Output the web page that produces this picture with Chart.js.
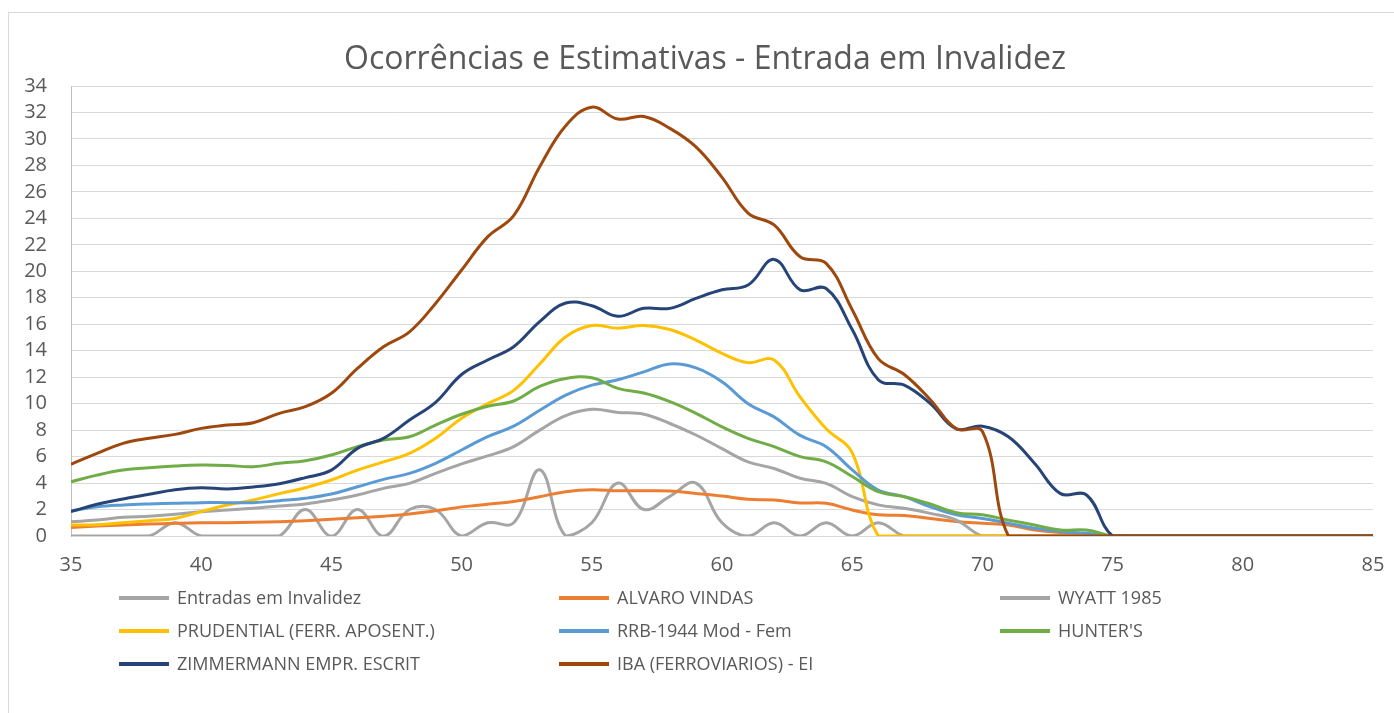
<!DOCTYPE html>
<html>
<head>
<meta charset="utf-8">
<script src="https://cdn.jsdelivr.net/npm/chart.js@4/dist/chart.umd.min.js"></script>
<style>
    html, body { margin: 0; padding: 0; background: #fff; }
    #wrap { position: relative; width: 1394px; height: 713px; overflow: hidden; font-family: "Open Sans", sans-serif; }
    #frame { position: absolute; left: 8px; top: 12px; width: 1500px; height: 800px; border: 1px solid #d9d9d9; box-sizing: border-box; }
    #title { position: absolute; left: 0; top: 37px; width: 1410px; text-align: center; font-size: 32px; color: #595959; line-height: 40px; }
    #chart { position: absolute; left: 0; top: 0; }
    .leg { position: absolute; font-size: 18px; color: #595959; line-height: 20px; white-space: nowrap; }
    .leg span.sw { position: absolute; left: 0; top: 9px; width: 50px; height: 4px; }
    .leg span.tx { position: absolute; left: 58px; top: 0; }
</style>
</head>
<body>
<div id="wrap">
    <div id="frame"></div>
    <canvas id="chart" width="1394" height="713"></canvas>
    <div id="title">Ocorrências e Estimativas - Entrada em Invalidez</div>
    <div id="legend"></div>
</div>
<script>
// Ages 35..85
const ages = [35,36,37,38,39,40,41,42,43,44,45,46,47,48,49,50,51,52,53,54,55,56,57,58,59,60,
    61,62,63,64,65,66,67,68,69,70,71,72,73,74,75,76,77,78,79,80,81,82,83,84,85];

const yTicks = [0,2,4,6,8,10,12,14,16,18,20,22,24,26,28,30,32,34];
const xTicks = [35,40,45,50,55,60,65,70,75,80,85];

const seriesNames = [
    'Entradas em Invalidez', 'ALVARO VINDAS', 'WYATT 1985',
    'PRUDENTIAL (FERR. APOSENT.)', 'RRB-1944 Mod - Fem', "HUNTER'S",
    'ZIMMERMANN EMPR. ESCRIT', 'IBA (FERROVIARIOS) - EI'
];
const seriesColors = ['#a5a5a5', '#ed7d31', '#a5a5a5', '#ffc000', '#5b9bd5', '#70ad47', '#264478', '#9e480e'];

const entradas = [0,0,0,0,1,0,0,0,0,2,0,2,0,2,2,0,1,1,5,0,1,4,2,3,4,1,
    0,1,0,1,0,1,0,0,0,0,0,0,0,0,0,0,0,0,0,0,0,0,0,0,0];
const alvaro = [0.65,0.75,0.83,0.9,0.96,1.0,1.0,1.03,1.08,1.16,1.26,1.38,1.5,1.66,1.9,2.2,2.4,2.6,2.97,3.35,3.5,3.42,3.42,3.4,3.22,3.02,
    2.77,2.72,2.5,2.47,1.96,1.6,1.55,1.33,1.1,0.96,0.83,0.45,0.25,0.1,0,0,0,0,0,0,0,0,0,0,0];
const wyatt = [1.08,1.2,1.41,1.5,1.64,1.84,1.96,2.09,2.27,2.42,2.72,3.1,3.6,3.98,4.73,5.45,6.05,6.75,8.0,9.1,9.57,9.34,9.2,8.5,7.63,6.6,
    5.6,5.1,4.36,3.98,2.97,2.35,2.09,1.71,1.2,0,0,0,0,0,0,0,0,0,0,0,0,0,0,0,0];
const prudential = [0.83,0.85,1.0,1.16,1.33,1.84,2.34,2.72,3.2,3.65,4.23,4.98,5.6,6.24,7.38,8.9,10.0,11.0,13.0,15.05,15.9,15.7,15.9,15.6,14.8,13.8,
    13.1,13.3,10.5,8.1,6.3,0,0,0,0,0,0,0,0,0,0,0,0,0,0,0,0,0,0,0,0];
const rrb = [1.9,2.2,2.34,2.42,2.47,2.52,2.52,2.52,2.67,2.85,3.17,3.72,4.28,4.73,5.49,6.5,7.5,8.3,9.5,10.65,11.4,11.8,12.4,13.0,12.7,11.65,
    10.0,9.0,7.6,6.75,5.0,3.47,2.97,2.2,1.6,1.33,0.96,0.58,0.33,0.2,0,0,0,0,0,0,0,0,0,0,0];
const hunters = [4.1,4.6,4.98,5.16,5.29,5.36,5.33,5.24,5.49,5.69,6.12,6.75,7.25,7.5,8.38,9.2,9.8,10.2,11.3,11.9,11.95,11.15,10.8,10.15,9.27,8.25,
    7.38,6.75,6.0,5.6,4.5,3.35,2.97,2.42,1.76,1.6,1.2,0.83,0.45,0.45,0,0,0,0,0,0,0,0,0,0,0];
const zimmermann = [1.84,2.4,2.8,3.15,3.5,3.65,3.55,3.7,3.95,4.41,4.98,6.62,7.38,8.76,10.1,12.2,13.3,14.3,16.2,17.6,17.4,16.6,17.2,17.2,17.95,18.6,
    18.96,20.9,18.6,18.7,15.6,11.8,11.4,10.0,8.1,8.3,7.5,5.5,3.2,3.1,0,0,0,0,0,0,0,0,0,0,0];
const iba = [5.42,6.24,7.0,7.38,7.68,8.13,8.38,8.56,9.27,9.77,10.78,12.66,14.3,15.43,17.57,20.1,22.6,24.2,27.9,31.0,32.4,31.5,31.7,30.8,29.4,27.1,
    24.4,23.5,21.1,20.6,17.1,13.4,12.2,10.3,8.1,7.9,0,0,0,0,0,0,0,0,0,0,0,0,0,0,0];

const seriesValues = [entradas, alvaro, wyatt, prudential, rrb, hunters, zimmermann, iba];

const textColor = '#595959';
const gridColor = '#d9d9d9';

const datasets = seriesValues.map((vals, i) => ({
    label: seriesNames[i],
    data: vals.map((v, j) => ({ x: ages[j], y: v })),
    borderColor: seriesColors[i],
    backgroundColor: seriesColors[i],
    borderWidth: 3,
    pointRadius: 0,
    tension: 0.4,
    fill: false,
    // Excel draws later series on top
    order: seriesValues.length - i
}));

const chart = new Chart(document.getElementById('chart'), {
    type: 'line',
    data: { datasets: datasets },
    options: {
        responsive: false,
        animation: false,
        layout: { padding: { left: 0, right: 21, top: 86, bottom: 137 } },
        plugins: {
            legend: { display: false },
            title: { display: false },
            tooltip: { enabled: false }
        },
        scales: {
            x: {
                type: 'linear',
                min: 35,
                max: 85,
                afterBuildTicks: (scale) => { scale.ticks = xTicks.map(v => ({ value: v })); },
                afterFit: (scale) => { scale.height = 40; },
                // tall line height pushes labels down without widening side padding
                ticks: { color: textColor, font: { family: 'Open Sans', size: 20, lineHeight: 2 }, padding: 9, maxRotation: 0, autoSkip: false },
                grid: { display: false, drawTicks: false },
                border: { display: true, color: gridColor, width: 1 }
            },
            y: {
                min: 0,
                max: 34,
                afterBuildTicks: (scale) => { scale.ticks = yTicks.map(v => ({ value: v })); },
                afterFit: (scale) => { scale.width = 71; },
                ticks: { color: textColor, font: { family: 'Open Sans', size: 20, lineHeight: 1 }, padding: 24, autoSkip: false },
                grid: { color: gridColor, lineWidth: 1, drawTicks: false },
                border: { display: true, color: '#bfbfbf', width: 1 }
            }
        }
    }
});

// Legend in three columns, like the Excel original
const legendCols = [119, 559, 1000];
const legendRows = [587, 620, 653];
const legendBox = document.getElementById('legend');
chart.data.datasets.forEach((ds, i) => {
    const item = document.createElement('div');
    item.className = 'leg';
    item.style.left = legendCols[i % 3] + 'px';
    item.style.top = legendRows[Math.floor(i / 3)] + 'px';
    item.innerHTML = `<span class="sw" style="background:${ds.borderColor}"></span><span class="tx">${ds.label}</span>`;
    legendBox.appendChild(item);
});
</script>
</body>
</html>
